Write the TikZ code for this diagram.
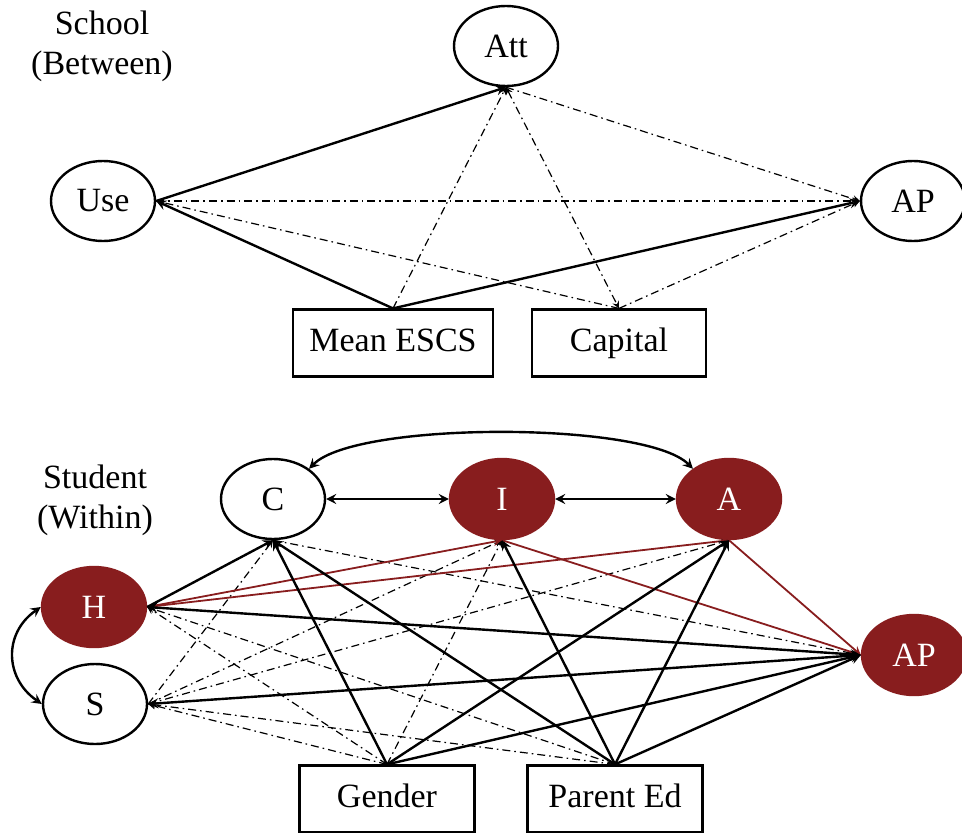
\documentclass[tikz,border=0pt]{standalone}
\usepackage{fontspec}
\setmainfont{Liberation Serif}
\usepackage{tikz}
\usetikzlibrary{arrows,shapes}
\usetikzlibrary{positioning}
\definecolor{sigred}{HTML}{881D1E}
\tikzset{
  latent/.style={ellipse,draw,line width=1.2pt,minimum width=52pt,minimum height=40pt,inner sep=0pt},
  siglatent/.style={latent,fill=sigred,draw=sigred,text=white},
  observed/.style={rectangle,draw,line width=1.1pt,minimum width=87.5pt,minimum height=33.5pt,inner sep=2pt,text height=12pt,text depth=4pt},
  solidpath/.style={line width=1.2pt,-stealth},
  redpath/.style={line width=0.9pt,draw=sigred,-stealth},
  nspath/.style={line width=0.6pt,dash pattern=on 4pt off 2pt on 0.8pt off 2pt,-stealth},
}

\begin{document}
\begin{tikzpicture}[x=0.5pt,y=0.5pt,font=\fontsize{17}{20}\selectfont]
  \useasboundingbox (0,0) rectangle (962,832);
  % school level
  \node[align=center] (schoollab) at (102,786) {School\\(Between)};
  \node[latent] (Use) at (103,631) {Use};
  \node[latent] (Att) at (506,786) {Att};
  \node[latent] (APb) at (913,631) {AP};
  \node[observed,minimum width=100pt] (MeanESCS) at (393,489) {Mean ESCS};
  \node[observed,minimum width=87pt] (Capital) at (619,489) {Capital};

  \draw[solidpath] (Use.east) -- (Att.south);
  \foreach \t in {Use.east,APb.west}{
    \draw[solidpath] (MeanESCS.north) -- (\t);
  }
  \foreach \s/\t in {Use.east/APb.west,Att.south/APb.west,MeanESCS.north/Att.south,Capital.north/Use.east,Capital.north/APb.west}{
    \draw[nspath] (\s) -- (\t);
  }
  \draw[nspath,stealth-stealth] (Att.south) -- (Capital.north);

  % student level
  \node[align=center] (studentlab) at (95,332) {Student\\(Within)};
  \node[latent] (C) at (273,333) {C};
  \node[siglatent] (I) at (502,333) {I};
  \node[siglatent] (A) at (729,333) {A};
  \node[siglatent] (H) at (94,225) {H};
  \node[latent] (S) at (95,128) {S};
  \node[siglatent] (APw) at (914,177) {AP};
  \node[observed] (Gender) at (387,33) {Gender};
  \node[observed] (ParentEd) at (615,33) {Parent Ed};

  \draw[solidpath,stealth-stealth] (C.east) -- (I.west);
  \draw[solidpath,stealth-stealth] (I.east) -- (A.west);
  \draw[solidpath,stealth-stealth] (C.40) to[out=45,in=135,looseness=0.45] (A.140);
  \draw[solidpath,stealth-stealth] (H.west) to[out=215,in=145,looseness=1.2] (S.west);

  \foreach \s/\t in {S.east/C.south,S.east/I.south,S.east/A.south,Gender.north/I.south,C.south/APw.west,
                     Gender.north/H.east,ParentEd.north/H.east,Gender.north/S.east,ParentEd.north/S.east}{
    \draw[nspath] (\s) -- (\t);
  }
  \foreach \s/\t in {H.east/I.south,H.east/A.south,I.south/APw.west,A.south/APw.west}{
    \draw[redpath] (\s) -- (\t);
  }
  \draw[solidpath] (H.east) -- (C.south);
  \draw[solidpath,stealth-stealth] (H.east) -- (APw.west);
  \draw[solidpath,stealth-stealth] (S.east) -- (APw.west);
  \foreach \t in {C.south,A.south,APw.west}{
    \draw[solidpath] (Gender.north) -- (\t);
  }
  \foreach \t in {C.south,I.south,A.south,APw.west}{
    \draw[solidpath] (ParentEd.north) -- (\t);
  }
\end{tikzpicture}
\end{document}
